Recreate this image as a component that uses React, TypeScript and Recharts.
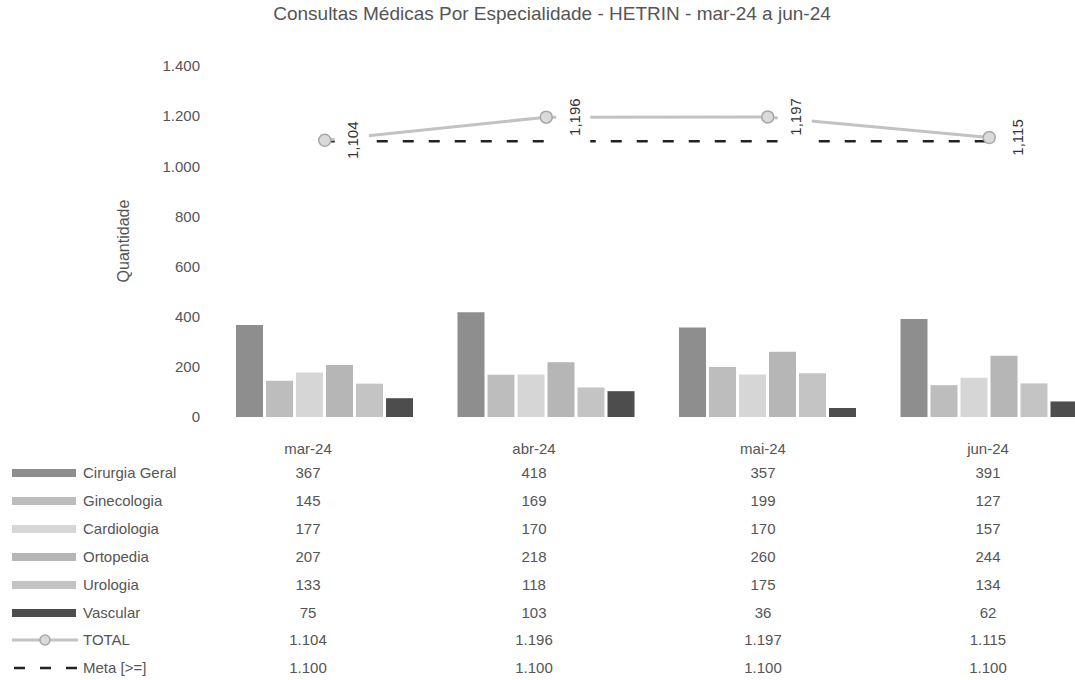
import { ComposedChart, Bar, Line, XAxis, YAxis, LabelList } from 'recharts';

const months = ['mar-24', 'abr-24', 'mai-24', 'jun-24'];
const cirurgiaGeral = [367, 418, 357, 391];
const ginecologia = [145, 169, 199, 127];
const cardiologia = [177, 170, 170, 157];
const ortopedia = [207, 218, 260, 244];
const urologia = [133, 118, 175, 134];
const vascular = [75, 103, 36, 62];
const total = [1104, 1196, 1197, 1115];
const meta = [1100, 1100, 1100, 1100];
const yTicks = [0, 200, 400, 600, 800, 1000, 1200, 1400];

const FONT = '"Liberation Sans", Arial, sans-serif';
const TEXT = '#555';

const series = [
  { key: 'cirurgia', name: 'Cirurgia Geral', values: cirurgiaGeral, color: '#8e8e8e' },
  { key: 'ginecologia', name: 'Ginecologia', values: ginecologia, color: '#bdbdbd' },
  { key: 'cardiologia', name: 'Cardiologia', values: cardiologia, color: '#d6d6d6' },
  { key: 'ortopedia', name: 'Ortopedia', values: ortopedia, color: '#b6b6b6' },
  { key: 'urologia', name: 'Urologia', values: urologia, color: '#c4c4c4' },
  { key: 'vascular', name: 'Vascular', values: vascular, color: '#4d4d4d' },
];

const data = months.map((m, i) => {
  const row: Record<string, string | number> = { month: m, total: total[i], meta: meta[i] };
  series.forEach((s) => (row[s.key] = s.values[i]));
  return row;
});

// separador de milhar no padrão pt-BR
const fmt = (n: number, sep = '.') => String(n).replace(/\B(?=(\d{3})+(?!\d))/g, sep);

const TotalDot = (props: any) => {
  const { cx, cy } = props;
  if (cx == null || cy == null) return null;
  return <circle cx={cx} cy={cy} r={6} fill="#dadada" stroke="#a8a8a8" strokeWidth={1.5} />;
};

const TotalLabel = (props: any) => {
  const { x, y, value } = props;
  if (x == null || y == null) return null;
  return (
    <g>
      <rect x={x + 10} y={y - 28} width={34} height={56} fill="#fff" />
      <text
        x={x + 28}
        y={y}
        transform={`rotate(-90 ${x + 28} ${y})`}
        textAnchor="middle"
        dominantBaseline="central"
        fontSize={15}
        fontFamily={FONT}
        fill="#333"
      >
        {fmt(value, ',')}
      </text>
    </g>
  );
};

const colX = [308, 534, 763, 988];
const headerY = 449;
const rowY = (i: number) => 473 + i * 27.9;

const Swatch = ({ kind, color }: { kind: string; color?: string }) => {
  if (kind === 'total') {
    return (
      <svg width={66} height={14}>
        <line x1={0} y1={7} x2={66} y2={7} stroke="#c2c2c2" strokeWidth={3} />
        <circle cx={33} cy={7} r={5} fill="#dadada" stroke="#a8a8a8" strokeWidth={1.5} />
      </svg>
    );
  }
  if (kind === 'meta') {
    return (
      <svg width={66} height={14}>
        <line x1={2} y1={7} x2={66} y2={7} stroke="#222" strokeWidth={2.5} strokeDasharray="11 15" />
      </svg>
    );
  }
  return (
    <svg width={66} height={14}>
      <rect x={0} y={3} width={64} height={8} fill={color} />
    </svg>
  );
};

export default function App() {
  const rows = [
    ...series.map((s) => ({ name: s.name, values: s.values, kind: 'bar', color: s.color })),
    { name: 'TOTAL', values: total, kind: 'total', color: '' },
    { name: 'Meta [>=]', values: meta, kind: 'meta', color: '' },
  ];

  return (
    <div
      style={{
        position: 'absolute',
        left: 0,
        top: 0,
        width: 1075,
        height: 680,
        overflow: 'hidden',
        background: '#fff',
        fontFamily: FONT,
      }}
    >
      <div
        style={{
          position: 'absolute',
          left: 0,
          width: 1104,
          top: 3,
          textAlign: 'center',
          fontSize: 19,
          color: '#555',
        }}
      >
        Consultas Médicas Por Especialidade - HETRIN - mar-24 a jun-24
      </div>

      <svg style={{ position: 'absolute', left: 0, top: 0 }} width={160} height={420}>
        <text
          x={123}
          y={241}
          transform="rotate(-90 123 241)"
          textAnchor="middle"
          dominantBaseline="central"
          fontSize={16}
          fontFamily={FONT}
          fill={TEXT}
        >
          Quantidade
        </text>
      </svg>

      <div style={{ position: 'absolute', left: 0, top: 0 }}>
        <ComposedChart
          width={1100}
          height={428}
          data={data}
          margin={{ top: 66, right: 0, bottom: 11, left: 0 }}
          barCategoryGap={22}
          barGap={3}
        >
          <XAxis dataKey="month" hide />
          <YAxis
            width={214}
            domain={[0, 1400]}
            ticks={yTicks}
            interval={0}
            axisLine={false}
            tickLine={false}
            tickSize={0}
            tickMargin={14}
            tickFormatter={(v: number) => fmt(v)}
            tick={{ fontSize: 15, fill: TEXT, fontFamily: FONT }}
          />
          {series.map((s) => (
            <Bar key={s.key} dataKey={s.key} fill={s.color} isAnimationActive={false} />
          ))}
          <Line
            dataKey="meta"
            stroke="#222"
            strokeWidth={2.5}
            strokeDasharray="11 15"
            dot={false}
            activeDot={false}
            isAnimationActive={false}
          />
          <Line
            dataKey="total"
            stroke="#c2c2c2"
            strokeWidth={3}
            dot={<TotalDot />}
            activeDot={false}
            isAnimationActive={false}
          >
            <LabelList dataKey="total" content={<TotalLabel />} />
          </Line>
        </ComposedChart>
      </div>

      {months.map((m, j) => (
        <div
          key={m}
          style={{
            position: 'absolute',
            left: colX[j] - 50,
            width: 100,
            top: headerY - 9,
            textAlign: 'center',
            fontSize: 15,
            color: TEXT,
          }}
        >
          {m}
        </div>
      ))}

      {rows.map((r, i) => (
        <div key={r.name}>
          <div style={{ position: 'absolute', left: 12, top: rowY(i) - 7, height: 14 }}>
            <Swatch kind={r.kind} color={r.color} />
          </div>
          <div
            style={{
              position: 'absolute',
              left: 83,
              top: rowY(i) - 9,
              fontSize: 15,
              color: TEXT,
              whiteSpace: 'nowrap',
            }}
          >
            {r.name}
          </div>
          {r.values.map((v, j) => (
            <div
              key={j}
              style={{
                position: 'absolute',
                left: colX[j] - 50,
                width: 100,
                top: rowY(i) - 9,
                textAlign: 'center',
                fontSize: 15,
                color: TEXT,
              }}
            >
              {fmt(v)}
            </div>
          ))}
        </div>
      ))}
    </div>
  );
}
